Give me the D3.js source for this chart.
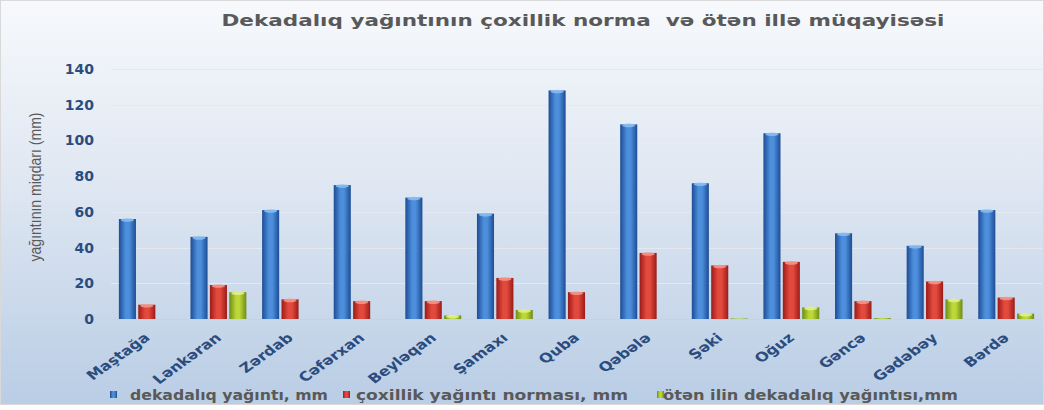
<!DOCTYPE html>
<html lang="en">
  <head>
    <meta charset="utf-8">
    <title>Dekadalıq yağıntı</title>
    <script type="text/javascript" src="https://cdnjs.cloudflare.com/ajax/libs/d3/7.8.5/d3.min.js"></script>
    <style>
      body { margin: 0; }
      .axisY path, .axisY line, .axisX path, .axisX line { display: none; }
    </style>
  </head>
  <body>
    <div id="chartDiv"></div>
    <script>
      var stations = ["Maştağa", "Lənkəran", "Zərdab", "Cəfərxan", "Beyləqan", "Şamaxı", "Quba",
                      "Qəbələ", "Şəki", "Oğuz", "Gəncə", "Gədəbəy", "Bərdə"]
      var dekada = [56, 46, 61, 75, 68, 59, 128, 109, 76, 104, 48, 41, 61]
      var norma = [8, 19, 11, 10, 10, 23, 15, 37, 30, 32, 10, 21, 12]
      var otenIl = [0, 15, 0, 0, 2, 5, 0, 0, 0.3, 6.5, 0.5, 11, 3]
      var seriesNames = ["dekadalıq yağıntı, mm", "çoxillik yağıntı norması, mm", "ötən ilin dekadalıq yağıntısı,mm"]
      var yTicks = [0, 20, 40, 60, 80, 100, 120, 140]

      var chartWd = 1044
      var chartHt = 410
      var plotLeft = 111, plotRight = 1042, plotTop = 69, plotBottom = 319

      // colours: edge, middle, top highlight
      var colors = [
        {edge: "#1d4c95", mid: "#4d8fdc", top: "#8cc0f2"},
        {edge: "#9c1b18", mid: "#e34a3e", top: "#f59a8c"},
        {edge: "#6f8c14", mid: "#bbd73a", top: "#e2f28c"}
      ]
      var seriesData = [dekada, norma, otenIl]

      var svg = d3.select("#chartDiv")
          .append("svg")
          .attr("width", chartWd)
          .attr("height", chartHt)

      var defs = svg.append("defs")
      var bg = defs.append("linearGradient").attr("id", "bg")
          .attr("x1", 0).attr("y1", 0).attr("x2", 0).attr("y2", 1)
      bg.append("stop").attr("offset", "0%").attr("stop-color", "#f7f9fc")
      bg.append("stop").attr("offset", "45%").attr("stop-color", "#dfe7f2")
      bg.append("stop").attr("offset", "100%").attr("stop-color", "#b9cde5")

      colors.forEach(function(c, i) {
        var g = defs.append("linearGradient").attr("id", "bar" + i)
            .attr("x1", 0).attr("y1", 0).attr("x2", 1).attr("y2", 0)
        g.append("stop").attr("offset", "0%").attr("stop-color", c.edge)
        g.append("stop").attr("offset", "40%").attr("stop-color", c.mid)
        g.append("stop").attr("offset", "60%").attr("stop-color", c.mid)
        g.append("stop").attr("offset", "100%").attr("stop-color", c.edge)
      })

      svg.append("rect")
         .attr("x", 0.5).attr("y", 0.5)
         .attr("width", chartWd - 1).attr("height", chartHt - 6)
         .attr("fill", "url(#bg)")
         .attr("stroke", "#d9d9d9")

      var yScale = d3.scaleLinear()
          .domain([0, 140])
          .range([plotBottom, plotTop])

      var x0 = d3.scaleBand()
          .domain(stations)
          .range([plotLeft, plotRight])
          .paddingInner(0.22)
          .paddingOuter(0.11)

      var x1 = d3.scaleBand()
          .domain([0, 1, 2])
          .range([0, x0.bandwidth()])
          .paddingInner(0.12)

      // gridlines
      svg.append("g")
         .selectAll("line")
         .data(yTicks)
         .enter()
         .append("line")
         .attr("x1", plotLeft)
         .attr("x2", plotRight)
         .attr("y1", function(d) { return Math.round(yScale(d)) + 0.5 })
         .attr("y2", function(d) { return Math.round(yScale(d)) + 0.5 })
         .attr("stroke", function(d) { return d == 0 ? "#c8d3e2" : "#e4e9f1" })
         .attr("stroke-width", 1)

      var yAxis = d3.axisLeft(yScale).tickValues(yTicks).tickSize(0).tickPadding(10)
      svg.append("g")
         .attr("class", "axisY")
         .attr("transform", "translate(" + (plotLeft - 7) + ",0)")
         .call(yAxis)
         .selectAll("text")
         .attr("font-family", "DejaVu Sans, sans-serif")
         .attr("font-weight", "bold")
         .attr("font-size", "14px")
         .attr("fill", "#2b4c7e")

      svg.append("text")
         .attr("transform", "translate(41," + 187 + ") rotate(-90)")
         .attr("text-anchor", "middle")
         .attr("font-family", "Liberation Sans Narrow, Liberation Sans, sans-serif")
         .attr("font-size", "16px")
         .attr("textLength", 149)
         .attr("lengthAdjust", "spacingAndGlyphs")
         .attr("fill", "#595959")
         .text("yağıntının miqdarı (mm)")

      // bars
      var groups = svg.append("g")
         .selectAll("g")
         .data(stations)
         .enter()
         .append("g")
         .attr("transform", function(d) { return "translate(" + x0(d) + ",0)" })

      groups.selectAll("rect")
         .data(function(d, i) { return seriesData.map(function(s, k) { return {k: k, v: s[i]} }) })
         .enter()
         .append("rect")
         .attr("x", function(d) { return x1(d.k) })
         .attr("y", function(d) { return yScale(d.v) })
         .attr("width", x1.bandwidth())
         .attr("height", function(d) { return yScale(0) - yScale(d.v) })
         .attr("fill", function(d) { return "url(#bar" + d.k + ")" })

      groups.selectAll("ellipse")
         .data(function(d, i) { return seriesData.map(function(s, k) { return {k: k, v: s[i]} }).filter(function(d) { return d.v > 1 }) })
         .enter()
         .append("ellipse")
         .attr("cx", function(d) { return x1(d.k) + x1.bandwidth() / 2 })
         .attr("cy", function(d) { return yScale(d.v) + 1 })
         .attr("rx", x1.bandwidth() / 2 - 2)
         .attr("ry", 1.8)
         .attr("fill", function(d) { return colors[d.k].top })
         .attr("opacity", 0.85)

      // x labels (the source picture is stretched sideways, so stretch the rotated text too)
      svg.append("g")
         .selectAll("text")
         .data(stations)
         .enter()
         .append("text")
         .attr("transform", function(d) {
           return "translate(" + (x0(d) + x0.bandwidth() / 2 + 4) + "," + 339 + ") scale(1.25,1) rotate(-42)"
         })
         .attr("text-anchor", "end")
         .attr("font-family", "DejaVu Sans, sans-serif")
         .attr("font-weight", "bold")
         .attr("font-size", "13px")
         .attr("fill", "#2b4c7e")
         .text(function(d) { return d })

      // title
      svg.append("text")
         .attr("x", 583)
         .attr("y", 26)
         .attr("text-anchor", "middle")
         .attr("font-family", "DejaVu Sans, sans-serif")
         .attr("font-weight", "bold")
         .attr("font-size", "15px")
         .attr("textLength", 723)
         .attr("lengthAdjust", "spacingAndGlyphs")
         .attr("fill", "#595959")
         .attr("xml:space", "preserve")
         .text("Dekadalıq yağıntının çoxillik norma  və ötən illə müqayisəsi")

      // legend
      var legendX = [110, 343, 657]
      var legendTextX = [20, 13, 6]
      var legendTextW = [198, 272, 295]
      var legend = svg.append("g")
         .selectAll("g")
         .data(seriesNames)
         .enter()
         .append("g")
         .attr("transform", function(d, i) { return "translate(" + legendX[i] + "," + 395 + ")" })

      legend.append("rect")
         .attr("x", 0).attr("y", -4)
         .attr("width", 7).attr("height", 7)
         .attr("fill", function(d, i) { return "url(#bar" + i + ")" })

      legend.append("text")
         .attr("x", function(d, i) { return legendTextX[i] })
         .attr("y", 5)
         .attr("font-family", "DejaVu Sans, sans-serif")
         .attr("font-weight", "bold")
         .attr("font-size", "14px")
         .attr("textLength", function(d, i) { return legendTextW[i] })
         .attr("lengthAdjust", "spacingAndGlyphs")
         .attr("fill", "#595959")
         .text(function(d) { return d })
    </script>
  </body>
</html>
